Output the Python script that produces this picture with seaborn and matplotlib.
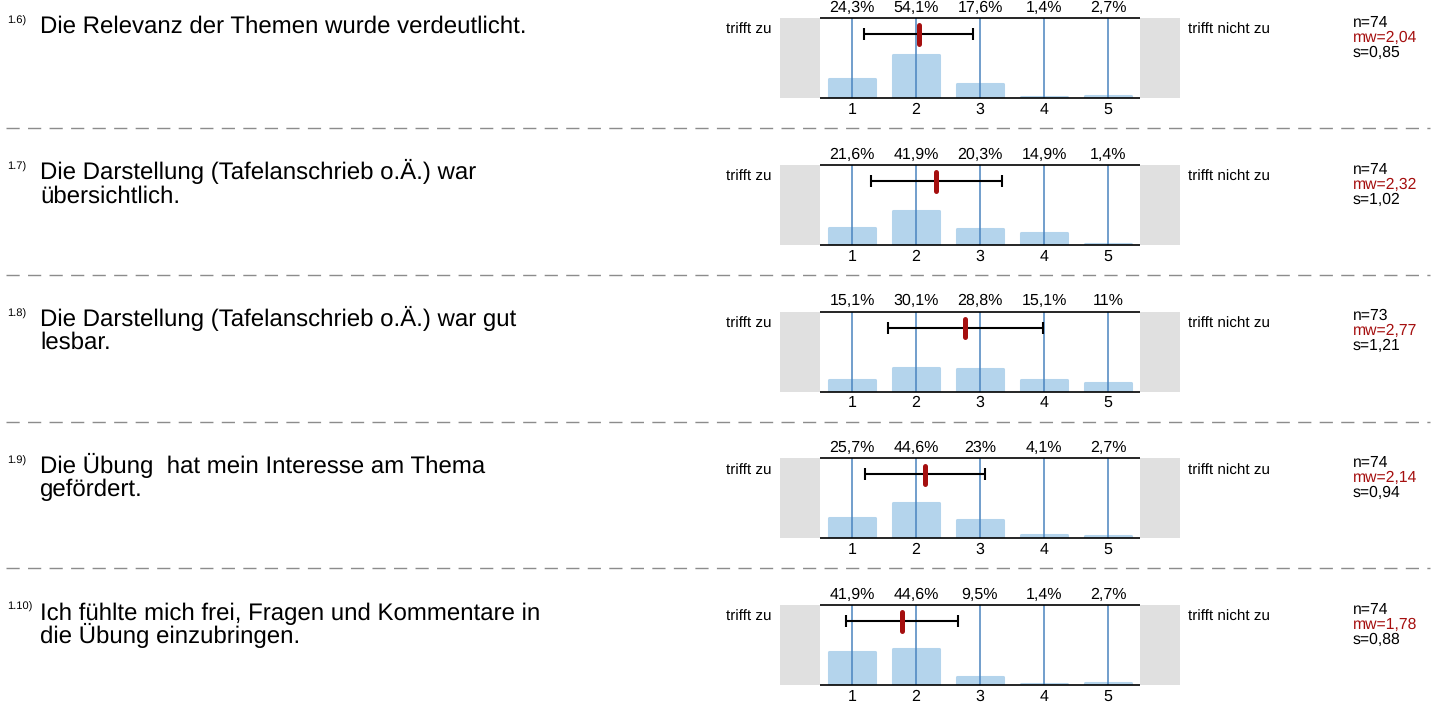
import pandas as pd
import matplotlib.pyplot as plt
import seaborn as sns
from matplotlib.lines import Line2D

# Survey items
item_nums = ["1.6)", "1.7)", "1.8)", "1.9)", "1.10)"]
item_texts = [
    "Die Relevanz der Themen wurde verdeutlicht.",
    "Die Darstellung (Tafelanschrieb o.Ä.) war\nübersichtlich.",
    "Die Darstellung (Tafelanschrieb o.Ä.) war gut\nlesbar.",
    "Die Übung  hat mein Interesse am Thema\ngefördert.",
    "Ich fühlte mich frei, Fragen und Kommentare in\ndie Übung einzubringen.",
]
scale = [1, 2, 3, 4, 5]
pct_16 = [24.3, 54.1, 17.6, 1.4, 2.7]
pct_17 = [21.6, 41.9, 20.3, 14.9, 1.4]
pct_18 = [15.1, 30.1, 28.8, 15.1, 11]
pct_19 = [25.7, 44.6, 23, 4.1, 2.7]
pct_110 = [41.9, 44.6, 9.5, 1.4, 2.7]
percents = [pct_16, pct_17, pct_18, pct_19, pct_110]
n_vals = [74, 74, 73, 74, 74]
mw_vals = [2.04, 2.32, 2.77, 2.14, 1.78]
s_vals = [0.85, 1.02, 1.21, 0.94, 0.88]

W, H = 1435, 713
sns.set_style("white")
plt.rcParams["font.family"] = ["Liberation Sans", "DejaVu Sans"]
plt.rcParams["text.color"] = "black"
plt.rcParams["text.hinting"] = "no_hinting"

fig = plt.figure(figsize=(W / 100, H / 100), dpi=100)

def fx(x):
    return x / W

def fy(y):
    return 1 - y / H

bar_color = "#b4d4ec"
line_color = "#4a84bf"
gray = "#e0e0e0"
red = "#a50f0f"

def de(v, fmt):
    return format(v, fmt).replace(".", ",")

row_step = 146.7
for i in range(5):
    top = 18.3 + i * row_step
    ax = fig.add_axes([fx(780), fy(top + 80), fx(400), 80 / H])
    d = pd.DataFrame({"wert": scale, "prozent": percents[i]})
    sns.barplot(data=d, x="wert", y="prozent", native_scale=True, width=0.73,
                color=bar_color, saturation=1, edgecolor=bar_color, linewidth=2.2,
                ax=ax, zorder=1)
    for p in ax.patches:
        p.set_joinstyle("round")
    ax.set_xlim(-0.125, 6.125)
    ax.set_ylim(0, 100)
    ax.axvspan(-0.125, 0.5, color=gray, lw=0, zorder=0)
    ax.axvspan(5.5, 6.125, color=gray, lw=0, zorder=0)
    ax.vlines(scale, 0, 100, color=line_color, lw=1.1, zorder=2)
    ax.hlines([0, 100], 0.5, 5.5, color="black", lw=1.2, zorder=3, clip_on=False)
    ax.errorbar(mw_vals[i], 80, xerr=s_vals[i], fmt="none", ecolor="black",
                elinewidth=1.5, capsize=4, capthick=1.5, zorder=4)
    ax.plot([mw_vals[i], mw_vals[i]], [68, 91], color=red, lw=3.6,
            solid_capstyle="round", zorder=5)
    for x, v in zip(scale, percents[i]):
        ax.text(x, 104, de(v, "g") + "%", ha="center", va="bottom", fontsize=11.5)
        ax.text(x, -5, str(x), ha="center", va="top", fontsize=11.5)
    ax.set_xticks([])
    ax.set_yticks([])
    ax.set_xlabel("")
    ax.set_ylabel("")
    sns.despine(ax=ax, left=True, bottom=True)

    # left side question text, one line at a time
    fig.text(fx(7), fy(top + 5), item_nums[i], fontsize=8, va="baseline")
    for k, line in enumerate(item_texts[i].split("\n")):
        fig.text(fx(40), fy(top + 14.5 + 23 * k), line, fontsize=17.3, va="baseline")
    fig.text(fx(771), fy(top + 16), "trifft zu", fontsize=11, ha="right", va="baseline")
    fig.text(fx(1188), fy(top + 16), "trifft nicht zu", fontsize=11, va="baseline")
    fig.text(fx(1353), fy(top + 8.5), f"n={n_vals[i]}", fontsize=11.3, va="baseline")
    fig.text(fx(1353), fy(top + 23.5), "mw=" + de(mw_vals[i], ".2f"), fontsize=11.3,
             va="baseline", color=red)
    fig.text(fx(1353), fy(top + 38.5), "s=" + de(s_vals[i], ".2f"), fontsize=11.3, va="baseline")

    if i < 4:
        yy = fy(top + 110)
        fig.add_artist(Line2D([fx(6), fx(1430)], [yy, yy], color="#8c8c8c", lw=1,
                              dashes=(9.5, 6)))

plt.savefig("out.png", dpi=100)
